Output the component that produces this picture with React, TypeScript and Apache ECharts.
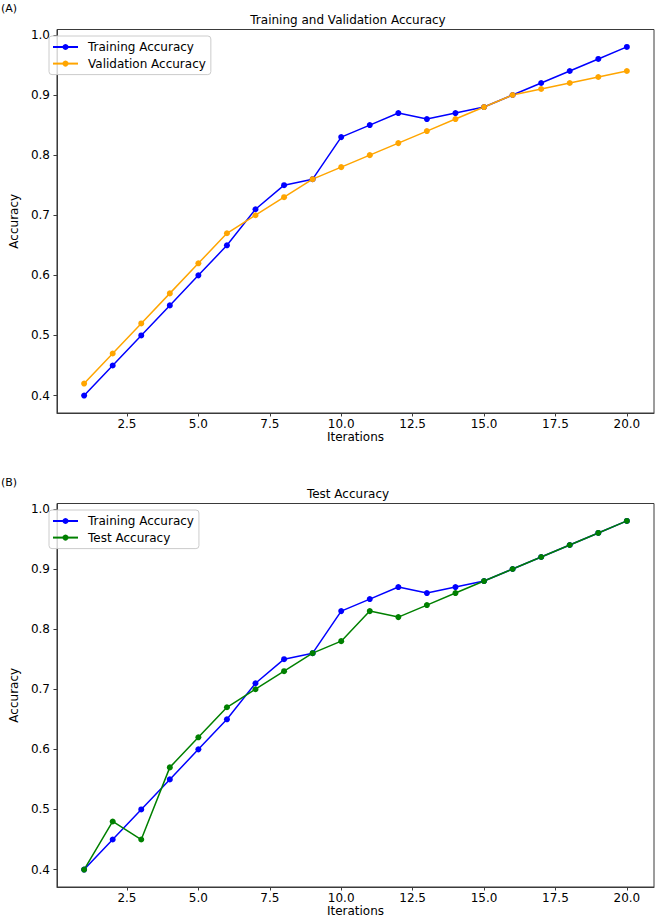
import React, { useEffect, useRef } from "react";
import * as echarts from "echarts";

const iterations = [1, 2, 3, 4, 5, 6, 7, 8, 9, 10, 11, 12, 13, 14, 15, 16, 17, 18, 19, 20];
const trainingAcc = [0.40, 0.45, 0.50, 0.55, 0.60, 0.65, 0.71, 0.75, 0.76, 0.83, 0.85, 0.87, 0.86, 0.87, 0.88, 0.90, 0.92, 0.94, 0.96, 0.98];
const validationAcc = [0.42, 0.47, 0.52, 0.57, 0.62, 0.67, 0.70, 0.73, 0.76, 0.78, 0.80, 0.82, 0.84, 0.86, 0.88, 0.90, 0.91, 0.92, 0.93, 0.94];
const testAcc = [0.40, 0.48, 0.45, 0.57, 0.62, 0.67, 0.70, 0.73, 0.76, 0.78, 0.83, 0.82, 0.84, 0.86, 0.88, 0.90, 0.92, 0.94, 0.96, 0.98];
const xTicks = [2.5, 5.0, 7.5, 10.0, 12.5, 15.0, 17.5, 20.0];
const yTicks = [0.4, 0.5, 0.6, 0.7, 0.8, 0.9, 1.0];
const panelTitles = ["Training and Validation Accuracy", "Test Accuracy"];
const panelLabels = ["(A)", "(B)"];

const FONT = "DejaVu Sans";
const AXIS_COLOR = "#3a3a3a";

const pairs = (ys: number[]) => iterations.map((x, i) => [x, ys[i]]);

export default function App() {
  const ref = useRef<HTMLDivElement>(null);
  useEffect(() => {
    document.body.style.margin = "0";
    const chart = echarts.init(ref.current!, null, { renderer: "svg" });
    const panelTops = [29.5, 503.5];
    const panelHeight = 383.5;

    const grids = panelTops.map((t) => ({
      left: 42,
      right: 2,
      top: t,
      height: panelHeight,
      show: true,
      borderColor: AXIS_COLOR,
      borderWidth: 1,
      backgroundColor: "transparent",
    }));

    const xAxes = panelTops.map((_, i) => ({
      type: "value",
      gridIndex: i,
      min: 0.05,
      max: 20.95,
      name: "Iterations",
      nameLocation: "middle",
      nameGap: 18,
      nameTextStyle: { fontFamily: FONT, fontSize: 12, color: "#000" },
      axisLine: { show: true, lineStyle: { color: AXIS_COLOR, width: 1 } },
      axisTick: { show: true, length: 3.5, lineStyle: { color: AXIS_COLOR }, customValues: xTicks },
      axisLabel: {
        customValues: xTicks,
        formatter: (v: number) => v.toFixed(1),
        fontFamily: FONT,
        fontSize: 12,
        color: "#000",
        margin: 5,
      },
      splitLine: { show: false },
    }));

    const yAxes = panelTops.map((_, i) => ({
      type: "value",
      gridIndex: i,
      min: 0.371,
      max: 1.009,
      name: "Accuracy",
      nameLocation: "middle",
      nameGap: 35,
      nameTextStyle: { fontFamily: FONT, fontSize: 12, color: "#000" },
      axisLine: { show: true, lineStyle: { color: AXIS_COLOR, width: 1 } },
      axisTick: { show: true, length: 3.5, lineStyle: { color: AXIS_COLOR }, customValues: yTicks },
      axisLabel: {
        customValues: yTicks,
        formatter: (v: number) => v.toFixed(1),
        fontFamily: FONT,
        fontSize: 12,
        color: "#000",
        margin: 7,
      },
      splitLine: { show: false },
    }));

    const mkSeries = (name: string, data: number[], color: string, idx: number) => ({
      name,
      type: "line",
      xAxisIndex: idx,
      yAxisIndex: idx,
      data: pairs(data),
      symbol: "circle",
      symbolSize: 6,
      showSymbol: true,
      itemStyle: { color },
      lineStyle: { color, width: 1.5 },
      emphasis: { disabled: true },
    });

    const series = [
      mkSeries("Training Accuracy", trainingAcc, "#0000ff", 0),
      mkSeries("Validation Accuracy", validationAcc, "#ffa500", 0),
      { ...mkSeries("Training Accuracy", trainingAcc, "#0000ff", 1), id: "train2" },
      mkSeries("Test Accuracy", testAcc, "#008000", 1),
    ];

    const legendBase = {
      orient: "vertical",
      left: 49,
      itemWidth: 25,
      itemHeight: 7.5,
      itemGap: 4.6,
      padding: [5, 5, 5, 3],
      backgroundColor: "rgba(255,255,255,0.8)",
      borderColor: "#cccccc",
      borderWidth: 1,
      borderRadius: 3,
      textStyle: { fontFamily: FONT, fontSize: 12, color: "#000", padding: [0, 0, 0, 5] },
      selectedMode: false,
    };

    const graphics: any[] = [];
    panelTops.forEach((t, i) => {
      graphics.push({
        type: "text",
        x: 348,
        y: t - 16,
        style: {
          text: panelTitles[i],
          font: `12px "${FONT}"`,
          fill: "#000",
          textAlign: "center",
          textVerticalAlign: "top",
        },
      });
      graphics.push({
        type: "text",
        x: 1,
        y: t - 27,
        style: {
          text: panelLabels[i],
          font: `11px "${FONT}"`,
          fill: "#000",
          textAlign: "left",
          textVerticalAlign: "top",
        },
      });
    });

    chart.setOption({
      animation: false,
      backgroundColor: "#ffffff",
      grid: grids,
      xAxis: xAxes,
      yAxis: yAxes,
      legend: [
        { ...legendBase, top: 36, data: ["Training Accuracy", "Validation Accuracy"] },
        { ...legendBase, top: 510, data: ["Training Accuracy", "Test Accuracy"] },
      ],
      series,
      graphic: graphics,
    } as any);
    return () => chart.dispose();
  }, []);
  return <div ref={ref} style={{ width: 656, height: 919 }} />;
}
